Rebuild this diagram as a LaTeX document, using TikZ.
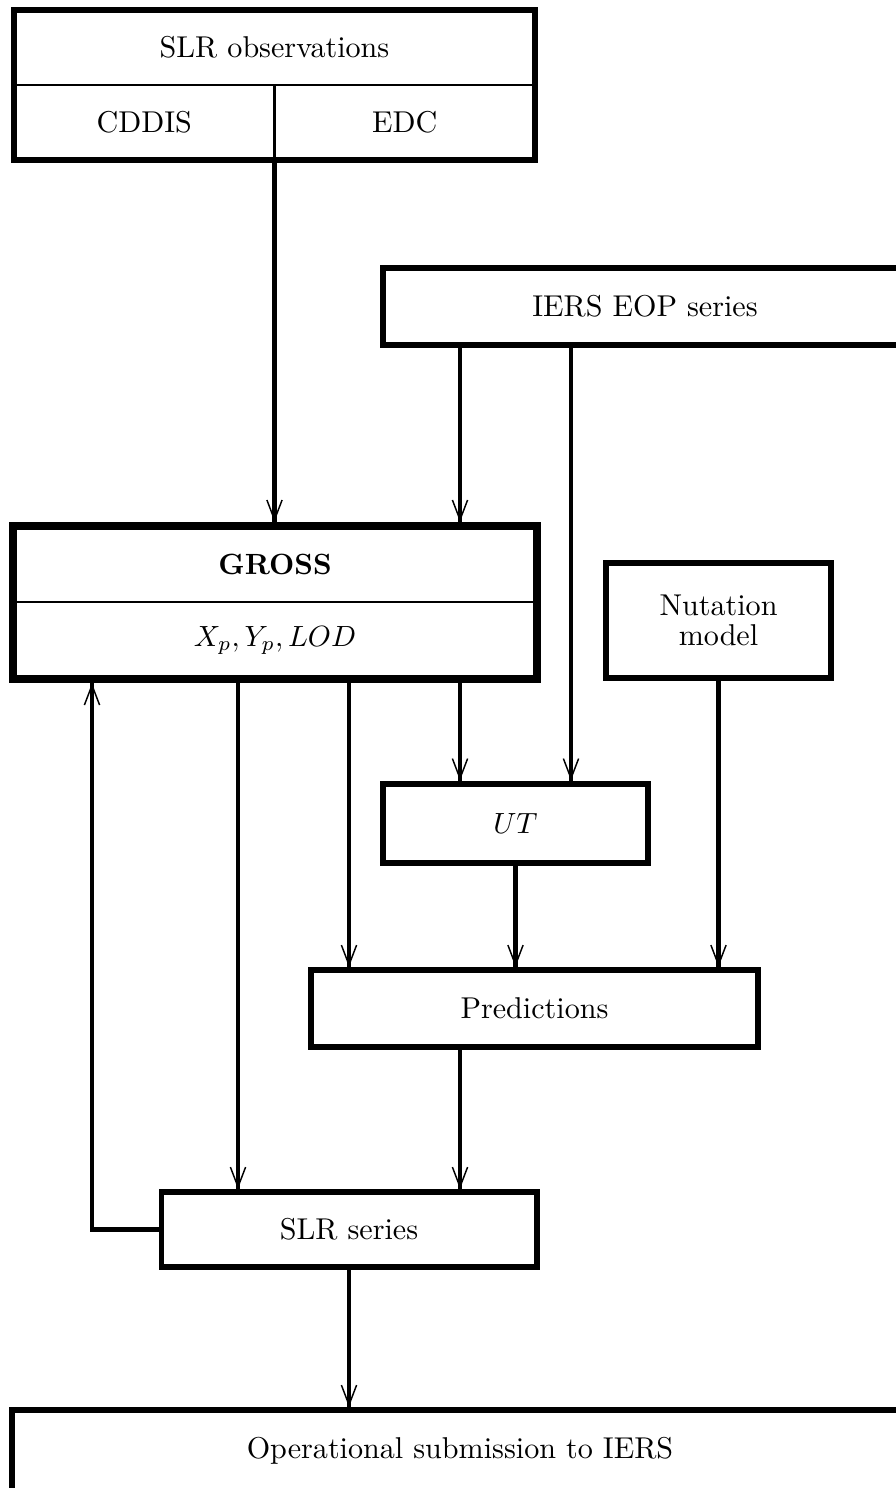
\documentclass[tikz,border=0pt]{standalone}
\usepackage{tikz}
\usetikzlibrary{arrows.meta,positioning,fit,decorations.markings}

\tikzset{
  dims/.style 2 args={minimum width=#1*0.342pt, minimum height=#2*0.342pt},
  box/.style={draw, line width=2.05pt, inner sep=0pt, align=center},
  cell/.style={draw, line width=1pt, inner sep=0pt, outer sep=0pt},
  flow/.style={line width=1.45pt, postaction={decorate},
    decoration={markings, mark=at position 1 with
      {\arrow[line width=0.5pt]{Straight Barb[length=6.8pt,width=5.2pt]}}}}
}

\begin{document}
\begin{tikzpicture}[x=0.342pt, y=-0.342pt, font=\fontsize{10.3}{12.4}\selectfont]
    \useasboundingbox (0,0) rectangle (896,1488);
    \clip (0,0) rectangle (896,1488);

    % SLR observations
    \node [cell, dims={521}{75}] (obs) at (274.5,47.5) {SLR observations};
    \node [cell, dims={260.5}{75}] (cddis) at (144.25,122.5) {CDDIS};
    \node [cell, dims={260.5}{75}] (edc) at (404.75,122.5) {EDC};
    \node [box, fit=(obs)(cddis)(edc)] (obsbox) {};

    % IERS EOP series
    \node [box, dims={524}{77}] (ieers) at (645,306.5) {IERS EOP series};

    % GROSS
    \node [cell, dims={524}{76}, font=\bfseries] (gross) at (275,564) {GROSS};
    \node [cell, dims={524}{77}] (xyl) at (275,640.5) {$X_p, Y_p, LOD$};
    \node [box, line width=2.8pt, fit=(gross)(xyl)] (grossbox) {};

    % Nutation, UT, Predictions
    \node [box, dims={225}{115}, font={\fontsize{10.3}{10.2}\selectfont}] (nut) at (718.5,620.5) {Nutation\\model};
    \node [box, dims={265}{79}] (ut) at (515.5,823) {$UT$};
    \node [box, dims={447}{77}] (pred) at (534.5,1008.5) {Predictions};

    % SLR series and submission
    \node [box, dims={375}{75}] (slrser) at (349,1229.5) {SLR series};
    \node [box, dims={896}{82}] (iers) at (460,1451) {Operational submission to IERS};

    % Flows
    \draw [flow] (cddis.south east) -- (cddis.south east |- grossbox.north);
    \draw [flow] (460,0 |- ieers.south) -- (460,0 |- grossbox.north);
    \draw [flow] (571,0 |- ieers.south) -- (571,0 |- ut.north);
    \draw [flow] (460,0 |- grossbox.south) -- (460,0 |- ut.north);
    \draw [flow] (349,0 |- grossbox.south) -- (349,0 |- pred.north);
    \draw [flow] (238,0 |- grossbox.south) -- (238,0 |- slrser.north);
    \draw [flow] (ut.south) -- (ut.south |- pred.north);
    \draw [flow] (nut.south) -- (nut.south |- pred.north);
    \draw [flow] (460,0 |- pred.south) -- (460,0 |- slrser.north);
    \draw [flow] (slrser.south) -- (slrser.south |- iers.north);

    % Feedback
    \draw [flow] (slrser.west) -| (92,0 |- grossbox.south);
\end{tikzpicture}
\end{document}
